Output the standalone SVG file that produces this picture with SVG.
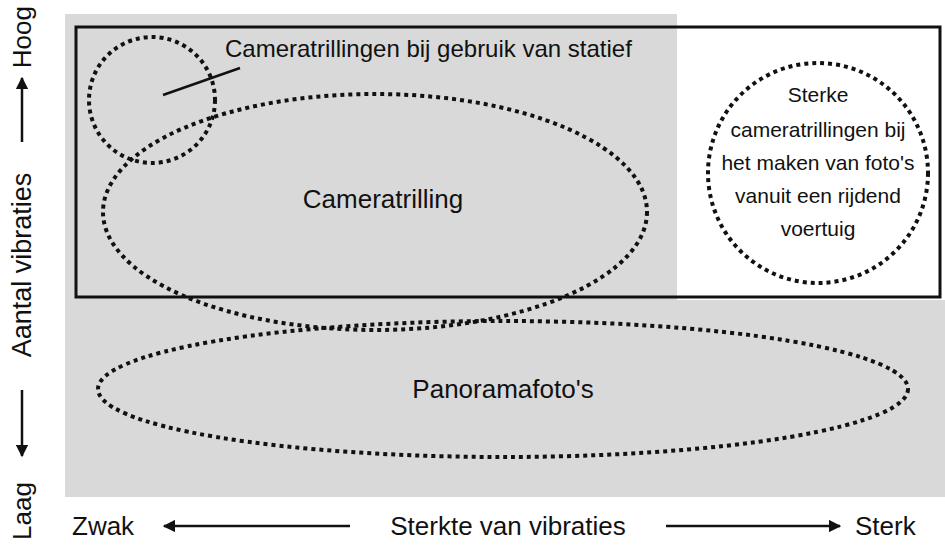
<svg xmlns="http://www.w3.org/2000/svg" width="945" height="551" viewBox="0 0 945 551">
<style>
.d{fill:none;stroke:#111;stroke-width:4;stroke-dasharray:4 4}
.t{font-family:"Liberation Sans",Arial,sans-serif;fill:#111}
.a{stroke:#111;stroke-width:2.5}
</style>
<defs><marker id="m" viewBox="0 0 10 10" refX="9" refY="5" markerWidth="5" markerHeight="5" orient="auto"><path d="M0,0L10,5L0,10z" fill="#111"/></marker></defs>
<rect width="945" height="551" fill="#fff"/>
<path d="M65,14H677V300H945V497H65Z" fill="#d9d9d9"/>
<rect x="76" y="27" width="864" height="270" fill="none" stroke="#111" stroke-width="3"/>
<g id="n1"><circle class="d" cx="152" cy="100" r="63"/><line x1="163" y1="95" x2="240" y2="68" stroke="#111" stroke-width="2.5"/><text class="t" x="225" y="57" font-size="24">Cameratrillingen bij gebruik van statief</text></g>
<g id="n2"><ellipse class="d" cx="375" cy="212" rx="272" ry="118"/><text class="t" x="383" y="208" font-size="26" text-anchor="middle">Cameratrilling</text></g>
<g id="n3"><circle class="d" cx="818" cy="173" r="110"/><text class="t" font-size="21" text-anchor="middle" textLength="0"><tspan x="818" y="102">Sterke</tspan><tspan x="818" y="137">cameratrillingen bij</tspan><tspan x="818" y="170">het maken van foto's</tspan><tspan x="818" y="203">vanuit een rijdend</tspan><tspan x="818" y="236">voertuig</tspan></text></g>
<g id="n4"><ellipse class="d" cx="503" cy="389" rx="405" ry="68"/><text class="t" x="503" y="398" font-size="26" text-anchor="middle">Panoramafoto's</text></g>
<g id="axes">
<text class="t" font-size="27" transform="translate(31,265) rotate(-90)" text-anchor="middle">Aantal vibraties</text>
<text class="t" font-size="26" transform="translate(31,6) rotate(-90)" text-anchor="end">Hoog</text>
<text class="t" font-size="26" transform="translate(31,540) rotate(-90)" text-anchor="start">Laag</text>
<line class="a" x1="22" y1="142" x2="22" y2="78" marker-end="url(#m)"/>
<line class="a" x1="22" y1="390" x2="22" y2="456" marker-end="url(#m)"/>
<text class="t" x="72" y="535" font-size="26">Zwak</text>
<text class="t" x="508" y="535" font-size="26" text-anchor="middle">Sterkte van vibraties</text>
<text class="t" x="855" y="535" font-size="26">Sterk</text>
<line class="a" x1="350" y1="526" x2="164" y2="526" marker-end="url(#m)"/>
<line class="a" x1="666" y1="526" x2="840" y2="526" marker-end="url(#m)"/>
</g>
</svg>
